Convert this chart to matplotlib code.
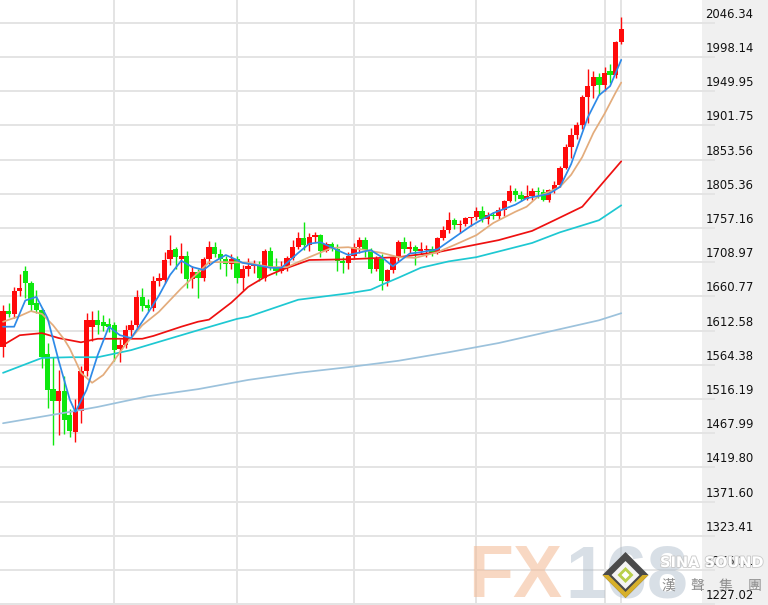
import matplotlib
matplotlib.use("Agg")
import matplotlib.pyplot as plt
import matplotlib.transforms as mtransforms
from matplotlib.patches import Polygon
import matplotlib.patheffects as pe

# ---------------- data (daily candles) ----------------
opens = [1589, 1640, 1636, 1669, 1697, 1680, 1651, 1641, 1580, 1530,
         1513, 1527, 1494, 1470, 1499, 1555, 1617, 1627, 1624, 1622,
         1620, 1586, 1592, 1613, 1620, 1660, 1648, 1645, 1682, 1684,
         1713, 1727, 1714, 1718, 1685, 1695, 1687, 1713, 1730, 1721,
         1713, 1706, 1713, 1686, 1700, 1703, 1705, 1686, 1725, 1702,
         1697, 1702, 1715, 1730, 1743, 1733, 1745, 1747, 1725, 1735,
         1728, 1710, 1708, 1718, 1730, 1740, 1726, 1699, 1714, 1683,
         1698, 1715, 1737, 1728, 1730, 1725, 1726, 1727, 1722, 1743,
         1754, 1768, 1761, 1763, 1771, 1772, 1781, 1770, 1775, 1774,
         1783, 1795, 1809, 1803, 1798, 1802, 1809, 1808, 1796, 1810,
         1818, 1842, 1871, 1888, 1902, 1941, 1957, 1970, 1958, 1978,
         1972, 2019]
highs = [1649, 1652, 1674, 1692, 1703, 1683, 1670, 1645, 1595, 1575,
         1557, 1548, 1502, 1516, 1562, 1637, 1640, 1641, 1635, 1630,
         1625, 1600, 1620, 1627, 1670, 1672, 1657, 1690, 1693, 1723,
         1747, 1730, 1736, 1725, 1703, 1699, 1716, 1739, 1738, 1728,
         1718, 1720, 1718, 1705, 1715, 1712, 1710, 1728, 1730, 1715,
         1710, 1717, 1740, 1752, 1765, 1750, 1752, 1748, 1738, 1737,
         1735, 1716, 1723, 1736, 1745, 1745, 1729, 1717, 1720, 1700,
         1717, 1740, 1745, 1739, 1733, 1738, 1733, 1731, 1745, 1760,
         1779, 1771, 1768, 1772, 1773, 1786, 1788, 1779, 1779, 1786,
         1797, 1818, 1814, 1809, 1818, 1813, 1815, 1812, 1812, 1823,
         1845, 1875, 1898, 1906, 1945, 1981, 1978, 1975, 1984, 1988,
         2021, 2055]
lows = [1575, 1631, 1630, 1661, 1659, 1640, 1637, 1560, 1504, 1451,
        1465, 1467, 1462, 1455, 1483, 1548, 1598, 1608, 1612, 1610,
        1570, 1568, 1588, 1605, 1615, 1640, 1640, 1640, 1675, 1679,
        1705, 1700, 1693, 1673, 1672, 1659, 1683, 1706, 1716, 1700,
        1690, 1700, 1680, 1670, 1690, 1694, 1683, 1683, 1698, 1691,
        1693, 1696, 1712, 1728, 1726, 1725, 1738, 1716, 1723, 1724,
        1697, 1693, 1700, 1715, 1722, 1716, 1694, 1697, 1670, 1675,
        1693, 1710, 1722, 1722, 1705, 1720, 1716, 1718, 1720, 1740,
        1750, 1755, 1750, 1760, 1760, 1768, 1765, 1762, 1770, 1770,
        1774, 1793, 1795, 1795, 1796, 1797, 1800, 1795, 1794, 1806,
        1815, 1840, 1855, 1882, 1897, 1905, 1940, 1945, 1950, 1962,
        1968, 2016]
closes = [1640, 1636, 1669, 1673, 1680, 1649, 1641, 1576, 1529, 1514,
          1527, 1486, 1471, 1499, 1555, 1627, 1627, 1620, 1619, 1617,
          1585, 1592, 1613, 1620, 1660, 1647, 1645, 1682, 1686, 1712,
          1726, 1716, 1718, 1685, 1695, 1687, 1713, 1730, 1721, 1713,
          1706, 1713, 1686, 1700, 1703, 1705, 1686, 1725, 1702, 1697,
          1702, 1715, 1730, 1743, 1733, 1745, 1747, 1725, 1735, 1728,
          1710, 1708, 1718, 1730, 1740, 1726, 1699, 1714, 1683, 1698,
          1715, 1737, 1728, 1730, 1725, 1727, 1727, 1722, 1743, 1754,
          1768, 1761, 1763, 1771, 1772, 1781, 1770, 1775, 1774, 1783,
          1795, 1809, 1803, 1798, 1802, 1809, 1808, 1796, 1810, 1818,
          1842, 1871, 1888, 1902, 1941, 1957, 1970, 1958, 1975, 1972,
          2019, 2038]

# moving-average lines (candle index -> value)
ma5_idx = [0, 2, 4, 6, 8, 10, 12, 13, 15, 17, 19, 21, 23, 25, 26, 28, 30, 32, 34, 36,
           38, 40, 42, 43, 46, 48, 50, 53, 55, 57, 60, 62, 66, 68, 70, 73, 75, 78, 80,
           84, 88, 92, 94, 98, 100, 102, 105, 107, 109, 111]
ma5_val = [1618, 1618, 1655, 1660, 1630, 1570, 1515, 1498, 1529, 1578, 1618, 1606, 1602,
           1625, 1637, 1662, 1691, 1711, 1702, 1698, 1710, 1719, 1712, 1708, 1704, 1701,
           1701, 1722, 1735, 1737, 1726, 1719, 1726, 1716, 1703, 1721, 1723, 1727, 1738,
           1760, 1778, 1790, 1799, 1805, 1815, 1847, 1913, 1944, 1957, 1994]
ma10_idx = [0, 3, 5, 7, 9, 11, 12, 14, 16, 18, 20, 22, 25, 28, 32, 35, 37, 41, 44, 48,
            51, 55, 59, 62, 68, 71, 74, 78, 81, 85, 88, 92, 94, 96, 100, 102, 104, 106,
            108, 110, 111]
ma10_val = [1625, 1633, 1640, 1636, 1620, 1600, 1587, 1553, 1539, 1550, 1571, 1593, 1620,
            1639, 1672, 1694, 1709, 1709, 1708, 1702, 1702, 1716, 1729, 1730, 1722, 1716,
            1715, 1723, 1733, 1747, 1764, 1780, 1787, 1801, 1815, 1832, 1857, 1891,
            1918, 1948, 1962]
ma30_idx = [0, 3, 7, 10, 14, 17, 25, 27, 32, 35, 37, 41, 44, 47, 50, 55, 62, 71, 78, 89,
            95, 99, 104, 111]
ma30_val = [1592, 1606, 1609, 1602, 1596, 1601, 1601, 1605, 1618, 1625, 1628, 1652, 1674,
            1688, 1698, 1712, 1713, 1716, 1723, 1740, 1753, 1768, 1787, 1851]
ma60_idx = [0, 7, 12, 17, 23, 26, 35, 42, 44, 53, 58, 62, 66, 68, 71, 73, 75, 80, 85,
            90, 95, 100, 107, 111]
ma60_val = [1553, 1574, 1575, 1575, 1585, 1592, 1613, 1629, 1632, 1656, 1661, 1665, 1670,
            1677, 1687, 1694, 1701, 1710, 1716, 1726, 1736, 1751, 1768, 1789]
ma200_idx = [0, 12, 17, 26, 35, 44, 53, 62, 71, 80, 89, 98, 107, 111]
ma200_val = [1482, 1498, 1505, 1520, 1530, 1543, 1553, 1561, 1570, 1582, 1595, 1611,
             1627, 1637]

ytick_labels = ["1227.02", "1275.21", "1323.41", "1371.60", "1419.80", "1467.99",
                "1516.19", "1564.38", "1612.58", "1660.77", "1708.97", "1757.16",
                "1805.36", "1853.56", "1901.75", "1949.95", "1998.14", "2046.34"]
month_end_idx = [20, 42, 63, 85, 108, 111]

# ---------------- figure ----------------
W, H = 768, 605
fig = plt.figure(figsize=(W / 100, H / 100), dpi=100, facecolor="#f0f0f0")
ax = fig.add_axes([0, 0, 702 / W, 1])
ax.set_facecolor("white")
for s in ax.spines.values():
    s.set_visible(False)

n = len(closes)
idx = list(range(n))
up = [c >= o for o, c in zip(opens, closes)]
RED, GREEN = "#ff0a0a", "#0ee80e"
colors = [RED if u else GREEN for u in up]

ax.vlines(idx, lows, highs, colors=colors, linewidth=1.0, zorder=3)
bottoms = [min(o, c) for o, c in zip(opens, closes)]
heights = [max(abs(c - o), 1.3) for o, c in zip(opens, closes)]
ax.bar(idx, heights, bottom=bottoms, width=0.95, color=colors, linewidth=0, zorder=4)

lw = 1.25
kw = dict(lw=lw, zorder=5, solid_joinstyle="round", solid_capstyle="round")
ax.plot(ma200_idx, ma200_val, color="#9cc2dc", **kw)
ax.plot(ma60_idx, ma60_val, color="#1ec8d2", **kw)
ax.plot(ma30_idx, ma30_val, color="#ee1010", **kw)
ax.plot(ma10_idx, ma10_val, color="#e3ac7c", **kw)
ax.plot(ma5_idx, ma5_val, color="#2e8ae8", **kw)

# axes / grid
ax.set_xlim(-0.54, 125.5)
ax.set_ylim(1225.9, 2078.3)
yt = [float(t) for t in ytick_labels]
ax.set_yticks(yt)
ax.set_yticklabels(ytick_labels)
ax.set_xticks(month_end_idx)
ax.tick_params(axis="x", length=0, labelbottom=False)
ax.grid(True, color="#e4e4e4", linewidth=1.4, zorder=0)
ax.set_axisbelow(True)
ax.yaxis.tick_right()
ax.tick_params(axis="y", length=9.4, width=1.4, color="#e4e4e4", pad=-7.0,
               labelsize=8.4, labelcolor="#111111")
offset = mtransforms.ScaledTranslation(0, 10 / 100, fig.dpi_scale_trans)
for lab in ax.get_yticklabels():
    lab.set_transform(lab.get_transform() + offset)
    lab.set_fontfamily("DejaVu Sans")
ax.yaxis.set_clip_on(False)

# ---------------- watermark ----------------
def fx(x):
    return x / W


def fy(y):
    return 1 - y / H


fig.text(fx(468), fy(597), "FX", fontsize=53, fontweight="bold", family="Liberation Sans",
         color="#f3b992", alpha=0.55, ha="left", va="baseline", zorder=10)
fig.text(fx(565), fy(597), "168", fontsize=53, fontweight="bold", family="Liberation Sans",
         color="#a9b8c8", alpha=0.45, ha="left", va="baseline", zorder=10)

cx, cy, r = 625.5, 575, 23


def diamond(h, **kw):
    pts = [(fx(cx), fy(cy - h)), (fx(cx + h), fy(cy)), (fx(cx), fy(cy + h)), (fx(cx - h), fy(cy))]
    return Polygon(pts, closed=True, transform=fig.transFigure, **kw)


fig.patches.append(diamond(r, facecolor="#4a4a4a", edgecolor="none", zorder=11))
fig.patches.append(Polygon([(fx(cx - r), fy(cy)), (fx(cx), fy(cy + r)), (fx(cx + r), fy(cy)),
                            (fx(cx + r - 6), fy(cy)), (fx(cx), fy(cy + r - 6)), (fx(cx - r + 6), fy(cy))],
                           closed=True, transform=fig.transFigure, facecolor="#d7b02a",
                           edgecolor="none", zorder=12))
fig.patches.append(diamond(14, facecolor="#f4f4f4", edgecolor="none", zorder=13))
fig.patches.append(diamond(8, facecolor="#b9cf4a", edgecolor="none", zorder=14))
fig.patches.append(diamond(4, facecolor="#ffffff", edgecolor="none", zorder=15))

fig.text(fx(660), fy(567), "SINA SOUND", fontsize=10.5, fontweight="bold", family="DejaVu Sans",
         color="white", ha="left", va="baseline", zorder=16,
         path_effects=[pe.withStroke(linewidth=1.2, foreground="#c8c8c8")])
for k, ch in enumerate("漢聲集團"):
    fig.text(fx(668 + k * 29), fy(586), ch, fontsize=10, family=["Noto Sans CJK TC", "DejaVu Sans"],
             color="#8c8c8c", ha="center", va="center", zorder=16)

fig.savefig("out.png", dpi=100, facecolor=fig.get_facecolor())
